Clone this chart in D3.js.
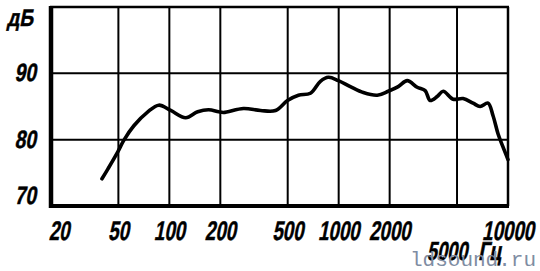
<!DOCTYPE html>
<html><head><meta charset="utf-8">
<script src="https://cdn.jsdelivr.net/npm/d3@7"></script>
<style>body{margin:0;background:#fff}svg{display:block}</style>
</head><body>
<script>
const freqs = [40, 43.4, 49.7, 53.8, 61.7, 74.6, 86.6, 101.9, 124.9, 147, 170.6, 195.4, 209, 274, 345.6, 423.6, 498.6, 578.6, 681, 780, 870, 996, 1172, 1398, 1690, 1962, 2248, 2540, 2908, 3242, 3470, 3816, 4140, 4740, 5430, 6220, 6840, 7620, 8160, 8730, 9340, 10000];
const levels = [74.1, 75.6, 78.2, 79.9, 82.1, 84.2, 85.2, 84.4, 83.3, 84.2, 84.5, 84.2, 84.1, 84.7, 84.4, 84.4, 85.9, 86.7, 87.0, 88.8, 89.4, 88.9, 88.0, 87.1, 86.7, 87.3, 88.0, 88.9, 87.9, 87.4, 85.9, 86.5, 87.3, 86.1, 86.2, 85.5, 85.0, 85.5, 83.6, 80.9, 78.9, 77.0];
const xGrid = [50, 100, 200, 500, 1000, 2000, 5000];
const xTickLabels = ["20", "50", "100", "200", "500", "1000", "2000", "10000"];
const xTickValues = [20, 50, 100, 200, 500, 1000, 2000, 10000];
const yGrid = [80, 90];
const yTickValues = [90, 80, 70];
const yUnit = "дБ";
const xUnit = "Гц";
const watermark = "ldsound.ru";

const W = 540, H = 271;
const svg = d3.select("body").append("svg").attr("width", W).attr("height", H);
const x = d3.scaleLog().domain([20, 10000]).range([51, 508]);
const y = d3.scaleLinear().domain([70, 100]).range([206, 7]);

const font = "'Liberation Sans', Arial, sans-serif";
function label(tx, ty, txt, anchor, size, sx) {
  svg.append("text")
    .attr("transform", `translate(${tx},${ty}) skewX(-11) scale(${sx},1)`)
    .attr("text-anchor", anchor)
    .attr("font-family", font).attr("font-weight", "bold")
    .attr("stroke", "#000").attr("stroke-width", 0.5)
    .attr("font-size", size).text(txt);
}

// grid
svg.selectAll("line.vg").data(xGrid).enter().append("line")
  .attr("x1", d => x(d)).attr("x2", d => x(d))
  .attr("y1", y(100)).attr("y2", y(70))
  .attr("stroke", "#000").attr("stroke-width", 2);
svg.selectAll("line.hg").data(yGrid).enter().append("line")
  .attr("x1", x(20)).attr("x2", x(10000))
  .attr("y1", d => y(d)).attr("y2", d => y(d))
  .attr("stroke", "#000").attr("stroke-width", 2);
// frame
svg.append("line").attr("x1", x(20)-1).attr("x2", x(10000)+1).attr("y1", y(100)).attr("y2", y(100)).attr("stroke", "#000").attr("stroke-width", 2.5);
svg.append("line").attr("x1", x(10000)).attr("x2", x(10000)).attr("y1", y(100)).attr("y2", y(70)).attr("stroke", "#000").attr("stroke-width", 2.5);
svg.append("line").attr("x1", x(20)).attr("x2", x(20)).attr("y1", y(100)-1).attr("y2", y(70)+2).attr("stroke", "#000").attr("stroke-width", 4.5);
svg.append("line").attr("x1", x(20)-2).attr("x2", x(10000)+1).attr("y1", y(70)).attr("y2", y(70)).attr("stroke", "#000").attr("stroke-width", 4);

// curve
const pts = freqs.map((f, i) => [f, levels[i]]);
svg.append("path").datum(pts)
  .attr("d", d3.line().x(d => x(d[0])).y(d => y(d[1])).curve(d3.curveCatmullRom.alpha(0.5)))
  .attr("fill", "none").attr("stroke", "#000").attr("stroke-width", 3.6)
  .attr("stroke-linecap", "round").attr("stroke-linejoin", "round");

// y labels
yTickValues.forEach(d => label(36, d === 70 ? y(d) - 2 : y(d) + 8, String(d), "end", 25, 0.77));
label(7, 26, yUnit, "start", 24, 0.8);

// x labels
xTickValues.forEach((d, i) => label(d === 20 ? x(d) + 8 : x(d), 240, xTickLabels[i], "middle", 27, 0.69));
label(x(5000) - 10, 260, "5000", "middle", 26, 0.7);
label(478, 260, xUnit, "start", 26, 0.75);

// watermark
svg.append("text").attr("x", 410).attr("y", 266)
  .attr("font-family", "'Liberation Mono', monospace").attr("font-size", 21)
  .attr("fill", "#7f8da3").text(watermark);
</script>
</body></html>
